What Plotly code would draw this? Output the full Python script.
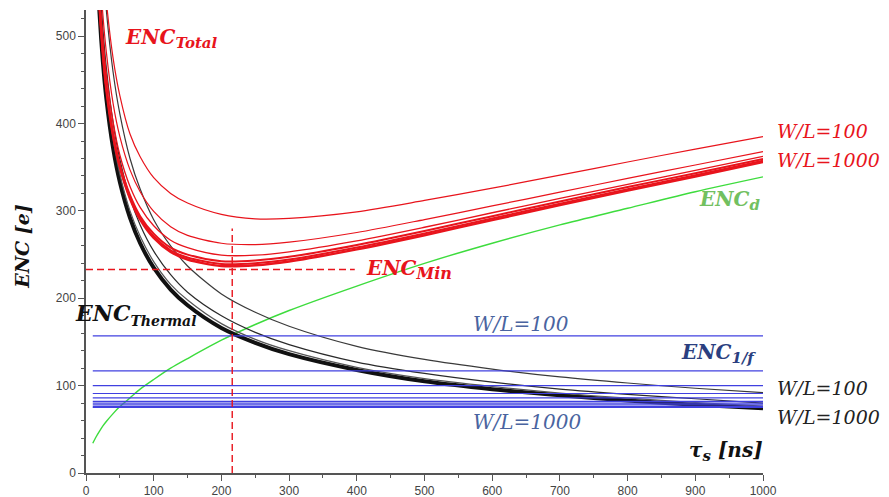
import plotly.graph_objects as go

# shaping time tau_s [ns]
tau = [10, 15, 20, 25, 30, 40, 50, 65, 80, 100, 125, 150, 200, 250, 300, 400, 500, 600, 700, 800, 900, 1000]

# ENC_d (green)
enc_d = [34, 41.5, 48, 54, 59, 68, 76, 86, 96, 107, 120, 131, 152, 170, 186, 214, 240, 263, 284, 303, 322, 339]

# ENC_thermal curves (black)
thermal_wl100 = [918, 750, 649, 581, 530, 459, 411, 360, 325, 290, 260, 237, 205, 184, 168, 145, 130, 119, 110, 103, 97, 92]
thermal_b = [803, 656, 568, 508, 464, 401, 359, 315, 284, 254, 227, 207, 180, 161, 147, 127, 114, 104, 96, 90, 85, 80]
thermal_c = [765, 625, 541, 484, 442, 383, 342, 300, 271, 242, 216, 198, 171, 153, 140, 121, 108, 99, 91.5, 85.6, 80.7, 76.5]
thermal_wl1000 = [744, 607, 526, 470, 429, 372, 333, 292, 263, 235, 210, 192, 166, 149, 136, 118, 105, 96, 89, 83, 78, 74]

# ENC_total curves (red)
total_wl100 = [900, 740, 645, 585, 540, 475, 432, 388, 362, 338, 320, 309, 296, 291, 291.5, 299, 312, 326, 341, 356, 370.8, 385]
total_b = [812, 668, 582, 524, 482, 423, 385, 347, 322, 299.5, 282, 272, 263, 261.4, 264.2, 275.3, 290.1, 305.7, 321.5, 337.2, 352.6, 368]
total_c = [772, 634, 552, 497, 457, 402, 364, 328, 304, 283, 266.5, 258, 249.4, 249.3, 253.1, 265.7, 281.3, 297.9, 314.3, 330.5, 346.3, 362.5]
total_d = [750, 615, 536, 482, 442, 389, 353, 318, 294, 274, 258, 250, 242.5, 243.3, 247.5, 261.1, 277.1, 294, 310.9, 327.3, 343.2, 359.5]
total_e = [749, 614, 535, 480, 441, 387, 351, 315, 292, 271, 255, 246.6, 239.3, 240.1, 244.3, 258.1, 274.2, 291.4, 308.3, 324.9, 340.9, 357.5]
total_wl1000 = [748, 613, 533.5, 479, 439, 385.5, 350, 314, 290, 269, 253, 244.4, 237, 237.8, 242.1, 256, 272.2, 289.5, 306.6, 323.2, 339.3, 356]

# ENC_1/f levels (blue horizontal lines), W/L = 100 ... 1000
flicker_levels = [157, 117, 100, 91, 86, 82, 80, 78, 76, 75]
flicker_span = [10, 1000]

# optimum point
tau_opt = 216
enc_min = 233
vline_span = [0, 280]
hline_span = [0, 397]

RED = "#e8141c"
GREEN = "#3ddc3d"
BLUE = "#4040e0"
BLACK = "#111111"

fig = go.Figure()

def add_line(x, y, color, width, dash=None):
    fig.add_trace(go.Scatter(x=x, y=y, mode="lines", line=dict(color=color, width=width, dash=dash, shape="spline", smoothing=0.8),
                             showlegend=False, hoverinfo="skip"))

add_line(tau, enc_d, GREEN, 1.4)

add_line(tau, thermal_wl100, "#3a3a3a", 1.2)
add_line(tau, thermal_b, "#2a2a2a", 1.2)
add_line(tau, thermal_wl1000, BLACK, 4)
add_line(tau, thermal_c, "#555555", 1.2)

for lvl in flicker_levels:
    fig.add_trace(go.Scatter(x=flicker_span, y=[lvl, lvl], mode="lines", line=dict(color=BLUE, width=1.2),
                             showlegend=False, hoverinfo="skip"))

add_line(tau, total_wl100, RED, 1.2)
add_line(tau, total_b, RED, 1.2)
add_line(tau, total_c, RED, 1.3)
add_line(tau, total_d, RED, 2)
add_line(tau, total_e, RED, 2)
add_line(tau, total_wl1000, RED, 2.4)

fig.add_trace(go.Scatter(x=[tau_opt, tau_opt], y=vline_span, mode="lines",
                         line=dict(color=RED, width=1.4, dash="7px,4px"), showlegend=False, hoverinfo="skip"))
fig.add_trace(go.Scatter(x=hline_span, y=[enc_min, enc_min], mode="lines",
                         line=dict(color=RED, width=1.4, dash="7px,4px"), showlegend=False, hoverinfo="skip"))

SERIF = "DejaVu Serif"


def enc(sub, sub_size=15):
    return f'<b><i>ENC<sub><span style="font-size:{sub_size}px">{sub}</span></sub></i></b>'


def ann(text, x, y, color, size, xref="x", xanchor="left"):
    fig.add_annotation(text=text, x=x, y=y, xref=xref, yref="y", xanchor=xanchor, yanchor="middle",
                       showarrow=False, font=dict(family=SERIF, size=size, color=color))

ann(enc("Total"), 55, 497, RED, 20)
ann(enc("Min", 16), 410, 233, RED, 20)
ann(enc("d"), 903, 312, "#72c060", 20)
ann(enc("1/f"), 876, 137, "#2b3f80", 20)
ann(enc("Thermal", 14), -0.019, 181, BLACK, 22, xref="paper")
ann("<i>W/L=100</i>", 568, 171, "#4a64a0", 20)
ann("<i>W/L=1000</i>", 568, 58, "#4a64a0", 20)
ann("<i>W/L=100</i>", 1.017, 391, RED, 19, xref="paper")
ann("<i>W/L=1000</i>", 1.017, 358, RED, 19, xref="paper")
ann("<i>W/L=100</i>", 1.017, 97, "#222222", 19, xref="paper")
ann("<i>W/L=1000</i>", 1.017, 64, "#222222", 19, xref="paper")
ann('<b><i>τ<sub><span style="font-size:15px">s</span></sub> [ns]</i></b>', 1.003, 25, BLACK, 20,
    xref="paper", xanchor="right")

fig.add_annotation(text="<b><i>ENC [e]</i></b>", x=-0.095, y=0.49, xref="paper", yref="paper",
                   textangle=-90, showarrow=False, xanchor="center", yanchor="middle",
                   font=dict(family=SERIF, size=19, color=BLACK))

axis_common = dict(showgrid=False, zeroline=False, showline=True, linecolor="#555555", linewidth=1.5,
                   ticks="outside", tickcolor="#555555", ticklen=6, tickwidth=1.3, automargin=False,
                   tickfont=dict(family="Liberation Sans", size=12, color="#444444"))

fig.update_xaxes(range=[0, 1000], tickmode="array", tickvals=list(range(0, 1001, 100)),
                 minor=dict(ticks="outside", ticklen=3, tickcolor="#555555", dtick=50, tick0=0), **axis_common)
fig.update_yaxes(range=[0, 530], tickmode="array", tickvals=list(range(0, 501, 100)),
                 minor=dict(ticks="outside", ticklen=3, tickcolor="#555555", dtick=20, tick0=0), **axis_common)

# page body has an 8px margin: compensate so the plot area lands where the reference has it
fig.update_layout(width=881, height=489, margin=dict(l=78, r=126, t=2, b=24),
                  plot_bgcolor="white", paper_bgcolor="white", showlegend=False)

fig.write_html("out.html")
